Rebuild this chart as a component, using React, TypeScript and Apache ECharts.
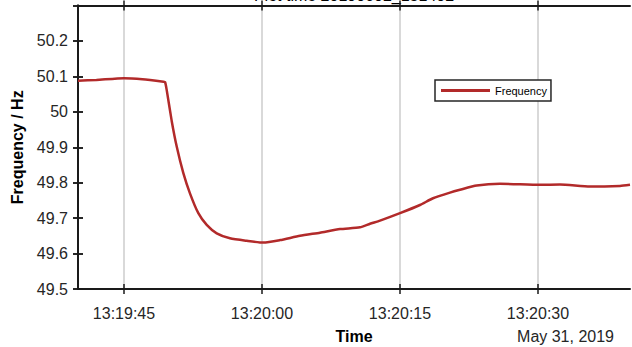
import React, { useEffect, useRef } from "react";
import * as echarts from "echarts";

// Time axis: seconds after 13:19:40 (May 31, 2019)
const startClock = [13, 19, 40];
const secondsAfterStart = [
  0, 2, 5, 7, 9.3, 9.46, 9.64, 10.18, 10.73, 11.45, 12.17, 13.08, 13.99, 15.08,
  16.52, 18.34, 20.14, 21.96, 24.13, 26.3, 28.48, 30.65, 31.74, 32.83, 35.0,
  37.17, 38.59, 40.43, 41.52, 43.34, 45.87, 50.22, 52.39, 55.65, 58.91, 60,
];
const frequencyHz = [
  50.088, 50.09, 50.095, 50.092, 50.085, 50.084, 50.062, 49.975, 49.902, 49.827,
  49.77, 49.714, 49.681, 49.657, 49.643, 49.636, 49.631, 49.638, 49.65, 49.659,
  49.669, 49.674, 49.684, 49.693, 49.714, 49.737, 49.756, 49.772, 49.78, 49.792,
  49.797, 49.794, 49.795, 49.789, 49.791, 49.794,
];
const xTickSeconds = [5, 20, 35, 50];
const seriesName = "Frequency";
const xAxisTitle = "Time";
const yAxisTitle = "Frequency / Hz";
const dateLabel = "May 31, 2019";
const plotTitle = "Plot time 20190602_131402";

const FONT = "'Liberation Sans', Arial, Helvetica, sans-serif";
const INK = "#1a1a1a";

function clockLabel(sec: number): string {
  const total = startClock[0] * 3600 + startClock[1] * 60 + startClock[2] + Math.round(sec);
  const h = Math.floor(total / 3600);
  const m = Math.floor((total % 3600) / 60);
  const s = total % 60;
  const p = (n: number) => String(n).padStart(2, "0");
  return `${h}:${p(m)}:${p(s)}`;
}

export default function App() {
  const ref = useRef<HTMLDivElement>(null);
  useEffect(() => {
    if (!ref.current) return;
    const chart = echarts.init(ref.current, null, { renderer: "svg" });
    const data = secondsAfterStart.map((t, i) => [t, frequencyHz[i]]);
    const xBase = { type: "value", min: 0, max: 60 };
    const yBase = { type: "value", min: 49.5, max: 50.3, interval: 0.1 };
    const tickOnlyX = (position: string, inside: boolean) => ({
      ...xBase,
      position,
      axisLine: { show: position === "top" && !inside, lineStyle: { color: INK, width: 2 } },
      axisTick: { show: true, inside, length: 5, customValues: xTickSeconds, lineStyle: { color: INK, width: 1.5 } },
      axisLabel: { show: false },
      splitLine: { show: false },
    });
    const tickOnlyY = (position: string, inside: boolean, withLine: boolean) => ({
      ...yBase,
      position,
      axisLine: { show: withLine, lineStyle: { color: INK, width: 2 } },
      axisTick: { show: true, inside, length: 5, lineStyle: { color: INK, width: 1.5 } },
      axisLabel: { show: false },
      splitLine: { show: false },
    });
    chart.setOption({
      animation: false,
      grid: { left: 78, top: 5.5, right: 2, bottom: 58, outerBoundsMode: "none" },
      legend: {
        data: [seriesName],
        left: 435,
        top: 80,
        icon: "rect",
        itemWidth: 49,
        itemHeight: 3,
        borderColor: "#262626",
        borderWidth: 1.5,
        backgroundColor: "#ffffff",
        padding: [5, 4, 5, 6],
        textStyle: { fontSize: 11, color: "#000", fontFamily: FONT },
      },
      xAxis: [
        {
          ...xBase,
          position: "bottom",
          name: xAxisTitle,
          nameLocation: "middle",
          nameGap: 39,
          nameTextStyle: { fontSize: 16, fontWeight: "bold", color: "#000", fontFamily: FONT },
          axisLine: { show: true, onZero: false, lineStyle: { color: INK, width: 2 } },
          axisTick: { show: true, length: 5, customValues: xTickSeconds, lineStyle: { color: INK, width: 1.5 } },
          axisLabel: {
            customValues: xTickSeconds,
            formatter: (v: number) => clockLabel(v),
            fontSize: 16,
            color: "#262626",
            fontFamily: FONT,
            margin: 16,
          },
          splitLine: { show: true, lineStyle: { color: "#d9d9d9", width: 2 } },
        },
        tickOnlyX("bottom", true),
        tickOnlyX("top", false),
        tickOnlyX("top", true),
      ],
      yAxis: [
        {
          ...yBase,
          position: "left",
          name: yAxisTitle,
          nameLocation: "middle",
          nameGap: 50,
          nameTextStyle: { fontSize: 16, fontWeight: "bold", color: "#000", fontFamily: FONT },
          axisLine: { show: true, onZero: false, lineStyle: { color: INK, width: 2 } },
          axisTick: { show: true, length: 5, lineStyle: { color: INK, width: 1.5 } },
          axisLabel: {
            formatter: (v: number) => (v > 50.25 ? "" : String(+v.toFixed(1))),
            fontSize: 16,
            color: "#262626",
            fontFamily: FONT,
            margin: 10,
          },
          splitLine: { show: false },
        },
        tickOnlyY("left", true, false),
        tickOnlyY("right", false, true),
        tickOnlyY("right", true, false),
      ],
      graphic: [
        {
          type: "text",
          x: 354,
          y: 3,
          style: { text: plotTitle, font: `16px ${FONT}`, fill: "#000", textAlign: "center", textVerticalAlign: "bottom" },
        },
        {
          type: "text",
          x: 614,
          y: 336,
          style: { text: dateLabel, font: `16px ${FONT}`, fill: "#262626", textAlign: "right", textVerticalAlign: "middle" },
        },
      ],
      series: [
        {
          name: seriesName,
          type: "line",
          data,
          xAxisIndex: 0,
          yAxisIndex: 0,
          showSymbol: false,
          symbol: "none",
          smooth: 0.2,
          lineStyle: { color: "#b22a2a", width: 2.5 },
          itemStyle: { color: "#b22a2a" },
        },
      ],
    });
    return () => chart.dispose();
  }, []);
  return <div ref={ref} style={{ position: "absolute", left: 0, top: 0, width: 632, height: 347 }} />;
}
